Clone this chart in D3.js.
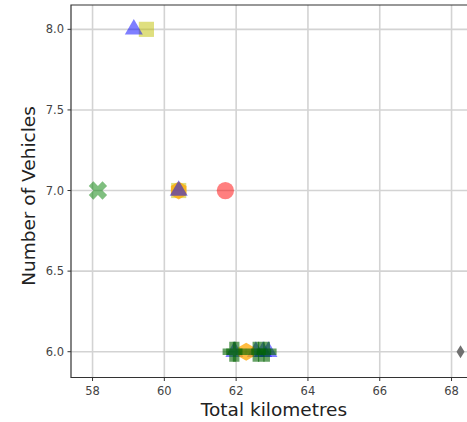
<!DOCTYPE html>
<html><head><meta charset="utf-8">
<script src="https://cdn.jsdelivr.net/npm/d3@7"></script>
<style>body{margin:0;background:#fff}svg{display:block}text{font-family:"DejaVu Sans",sans-serif}</style>
</head><body><svg id="c" width="467" height="422"></svg>
<script>
const xTicks = [58, 60, 62, 64, 66, 68];
const yTicks = [6.0, 6.5, 7.0, 7.5, 8.0];
const blueTriX = [59.15, 60.4, 61.95, 62.55, 62.75, 62.9];
const blueTriY = [8, 7, 6, 6, 6, 6];
const yellowSqX = [59.5, 60.4];
const yellowSqY = [8, 7];
const orangeHexX = [60.4, 62.28];
const orangeHexY = [7, 6];
const greenXX = [58.15];
const greenXY = [7];
const greenPX = [61.9, 62.0, 62.55, 62.7, 62.85];
const greenPY = [6, 6, 6, 6, 6];
const redCircX = [61.7];
const redCircY = [7];
const grayDiaX = [68.25];
const grayDiaY = [6];

const svg = d3.select("#c");
const L = 71, T = 5, B = 377.5;
const x = d3.scaleLinear().domain([57.4, 69.2]).range([L, L + 11.8 * 35.9]);
const y = d3.scaleLinear().domain([5.84, 8.151]).range([B, T]);
const R = 480;

const g = svg.append("g");
g.selectAll(".gx").data(xTicks).join("line")
  .attr("x1", d => x(d)).attr("x2", d => x(d)).attr("y1", T).attr("y2", B)
  .attr("stroke", "#d3d3d3").attr("stroke-width", 1.6);
g.selectAll(".gy").data(yTicks).join("line")
  .attr("y1", d => y(d)).attr("y2", d => y(d)).attr("x1", L).attr("x2", R)
  .attr("stroke", "#d3d3d3").attr("stroke-width", 1.6);

const pts = (xs, ys) => xs.map((v, i) => [v, ys[i]]);
function draw(data, sym, fill, op, rot) {
  g.selectAll(null).data(data).join("path")
    .attr("d", sym)
    .attr("transform", d => `translate(${x(d[0])},${y(d[1])})` + (rot ? ` rotate(${rot})` : ""))
    .attr("fill", fill).attr("fill-opacity", op);
}
const hex = "M0,-9 L7.8,-4.5 L7.8,4.5 L0,9 L-7.8,4.5 L-7.8,-4.5Z";
const dia = "M0,-6.5 L4,0 L0,6.5 L-4,0Z";
const tri = d3.symbol(d3.symbolTriangle, 140)();
const triData = pts(blueTriX, blueTriY);
draw(pts(greenXX, greenXY), d3.symbol(d3.symbolCross, 210)(), "#008000", 0.5, 45);
draw(pts(redCircX, redCircY), d3.symbol(d3.symbolCircle, 235)(), "#ff0000", 0.5);
draw(pts(yellowSqX, yellowSqY), d3.symbol(d3.symbolSquare, 230)(), "#bfbf00", 0.5);
draw(triData.filter(d => d[1] === 6), tri, "#0000ff", 0.5);
draw(pts(orangeHexX, orangeHexY), hex, "#ffa500", 0.75);
draw(pts(greenPX, greenPY), d3.symbol(d3.symbolCross, 220)(), "#006400", 0.6);
draw(triData.filter(d => d[1] !== 6), tri, "#0000ff", 0.5);
draw(pts(grayDiaX, grayDiaY), dia, "#707070", 1);

svg.append("path").attr("d", `M${R},${T} L${L},${T} L${L},${B} L${R},${B}`)
  .attr("fill", "none").attr("stroke", "#333").attr("stroke-width", 1.2);

svg.selectAll(".tx").data(xTicks).join("line")
  .attr("x1", d => x(d)).attr("x2", d => x(d)).attr("y1", B).attr("y2", B + 3.5)
  .attr("stroke", "#333").attr("stroke-width", 1);
svg.selectAll(".tlx").data(xTicks).join("text")
  .attr("x", d => x(d)).attr("y", B + 17).attr("text-anchor", "middle")
  .attr("font-size", 11.5).attr("fill", "#444").text(d => d3.format("d")(d));
svg.selectAll(".ty").data(yTicks).join("line")
  .attr("y1", d => y(d)).attr("y2", d => y(d)).attr("x1", L - 3.5).attr("x2", L)
  .attr("stroke", "#333").attr("stroke-width", 1);
svg.selectAll(".tly").data(yTicks).join("text")
  .attr("x", L - 7).attr("y", d => y(d)).attr("dy", "0.35em").attr("text-anchor", "end")
  .attr("font-size", 11.5).attr("fill", "#444").text(d => d3.format(".1f")(d));

svg.append("text").attr("x", 274).attr("y", 416).attr("text-anchor", "middle")
  .attr("font-size", 18.5).attr("fill", "#222").text("Total kilometres");
svg.append("text").attr("transform", `translate(35,196) rotate(-90)`)
  .attr("text-anchor", "middle").attr("font-size", 18.5).attr("fill", "#222").text("Number of Vehicles");
</script></body></html>
